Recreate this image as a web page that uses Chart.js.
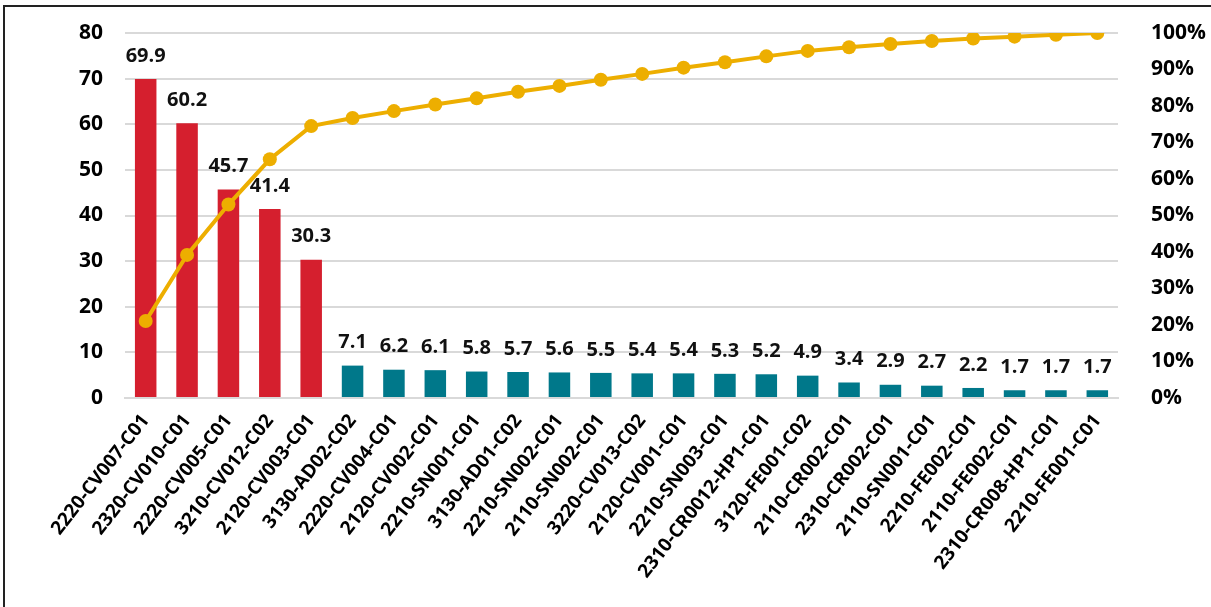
<!DOCTYPE html>
<html>
<head>
<meta charset="utf-8">
<script src="https://cdn.jsdelivr.net/npm/chart.js@4"></script>
<style>
  html, body { margin: 0; padding: 0; background: #fff; }
  #wrap { position: relative; width: 1211px; height: 607px; overflow: hidden; }
  #frame { position: absolute; left: 3px; top: 5px; right: -5px; bottom: -5px;
           border-top: 2px solid #222; border-left: 2px solid #222; }
  canvas { position: absolute; left: 0; top: 0; }
</style>
</head>
<body>
<div id="wrap">
  <div id="frame"></div>
  <canvas id="paretoChart" width="1211" height="607"></canvas>
</div>
<script>
// equipment codes, sorted by value
const labels = [
  "2220-CV007-C01", "2320-CV010-C01", "2220-CV005-C01", "3210-CV012-C02",
  "2120-CV003-C01", "3130-AD02-C02", "2220-CV004-C01", "2120-CV002-C01",
  "2210-SN001-C01", "3130-AD01-C02", "2210-SN002-C01", "2110-SN002-C01",
  "3220-CV013-C02", "2120-CV001-C01", "2210-SN003-C01", "2310-CR0012-HP1-C01",
  "3120-FE001-C02", "2110-CR002-C01", "2310-CR002-C01", "2110-SN001-C01",
  "2210-FE002-C01", "2110-FE002-C01", "2310-CR008-HP1-C01", "2210-FE001-C01"
];

const values = [69.9, 60.2, 45.7, 41.4, 30.3, 7.1, 6.2, 6.1, 5.8, 5.7, 5.6, 5.5,
                5.4, 5.4, 5.3, 5.2, 4.9, 3.4, 2.9, 2.7, 2.2, 1.7, 1.7, 1.7];

// cumulative share (%)
const cumulative = [21.1, 39.2, 53.0, 65.4, 74.5, 76.7, 78.6, 80.4, 82.1, 83.9, 85.5, 87.2,
                    88.8, 90.5, 92.0, 93.6, 95.1, 96.1, 97.0, 97.8, 98.5, 99.0, 99.5, 100];

const leftTicks = [0, 10, 20, 30, 40, 50, 60, 70, 80];
const rightTicks = [0, 10, 20, 30, 40, 50, 60, 70, 80, 90, 100];

const RED = "#D51F2E";
const TEAL = "#00788A";
const GOLD = "#EDAE00";
const topCount = 5; // first five bars are red

const FONT = "'Open Sans'";

// draws the numbers over the bars
const barLabels = {
  id: "barLabels",
  afterDatasetsDraw(chart) {
    const ctx = chart.ctx;
    const meta = chart.getDatasetMeta(1);
    ctx.save();
    ctx.font = "bold 20px " + FONT;
    ctx.fillStyle = "#111";
    ctx.textAlign = "center";
    ctx.textBaseline = "middle";
    meta.data.forEach((bar, i) => {
      ctx.fillText(values[i].toFixed(1), bar.x, bar.y - 23);
    });
    ctx.restore();
  }
};

// fixed axis sizes so the plot sits where the reference has it
function fitY(width) {
  return scale => {
    scale.width = width;
    scale.paddingTop = 0;
    scale.paddingBottom = 0;
  };
}

const ctx = document.getElementById("paretoChart");

new Chart(ctx, {
  data: {
    labels,
    datasets: [
      {
        type: "line",
        data: cumulative,
        yAxisID: "yR",
        borderColor: GOLD,
        backgroundColor: GOLD,
        borderWidth: 4,
        pointRadius: 7,
        pointHoverRadius: 7,
        pointBackgroundColor: GOLD,
        pointBorderWidth: 0,
        tension: 0,
        order: 0
      },
      {
        type: "bar",
        data: values,
        yAxisID: "y",
        backgroundColor: values.map((v, i) => i < topCount ? RED : TEAL),
        barPercentage: 0.52,
        categoryPercentage: 1,
        order: 1
      }
    ]
  },
  options: {
    responsive: false,
    animation: false,
    layout: { padding: { top: 33, left: 5, right: 0, bottom: 0 } },
    plugins: { legend: { display: false }, tooltip: { enabled: false } },
    scales: {
      x: {
        grid: { display: false },
        border: { display: true, color: "#d9d9d9", width: 2 },
        ticks: {
          color: "#000",
          font: { family: FONT, size: 19, weight: "bold" },
          minRotation: 52,
          maxRotation: 52,
          autoSkip: false,
          padding: 4
        },
        afterFit(scale) { scale.height = 209; }
      },
      y: {
        position: "left",
        min: 0,
        max: 80,
        afterBuildTicks(scale) { scale.ticks = leftTicks.map(v => ({ value: v })); },
        grid: { color: "#d9d9d9", lineWidth: 2, drawTicks: false },
        border: { display: false },
        ticks: {
          color: "#000",
          font: { family: FONT, size: 21, weight: "bold" },
          padding: 22
        },
        afterFit: fitY(120)
      },
      yR: {
        position: "right",
        min: 0,
        max: 100,
        afterBuildTicks(scale) { scale.ticks = rightTicks.map(v => ({ value: v })); },
        grid: { display: false },
        border: { display: false },
        ticks: {
          color: "#000",
          font: { family: FONT, size: 21, weight: "bold" },
          padding: 25,
          callback: v => v + "%"
        },
        afterFit: fitY(93)
      }
    }
  },
  plugins: [barLabels]
});
</script>
</body>
</html>
